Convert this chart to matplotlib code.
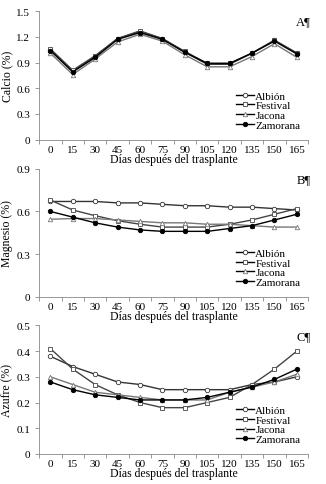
import matplotlib
matplotlib.use("Agg")
import matplotlib.pyplot as plt
import numpy as np

plt.rcParams['font.family'] = ['Liberation Serif', 'DejaVu Serif']

dias = ['0', '15', '30', '45', '60', '75', '90', '105', '120', '135', '150', '165']
variedades = ['Albión', 'Festival', 'Jacona', 'Zamorana']

calcio_albion = [1.05, 0.80, 0.97, 1.18, 1.26, 1.18, 1.02, 0.88, 0.88, 1.01, 1.16, 1.01]
calcio_festival = [1.06, 0.81, 0.98, 1.18, 1.27, 1.18, 1.03, 0.89, 0.89, 1.01, 1.16, 1.01]
calcio_jacona = [1.01, 0.76, 0.94, 1.14, 1.23, 1.15, 0.99, 0.85, 0.85, 0.97, 1.12, 0.96]
calcio_zamorana = [1.04, 0.79, 0.96, 1.17, 1.25, 1.17, 1.02, 0.89, 0.89, 1.01, 1.15, 1.00]

magnesio_albion = [0.67, 0.67, 0.67, 0.66, 0.66, 0.65, 0.64, 0.64, 0.63, 0.63, 0.62, 0.61]
magnesio_festival = [0.68, 0.61, 0.57, 0.535, 0.51, 0.49, 0.49, 0.49, 0.51, 0.54, 0.58, 0.62]
magnesio_jacona = [0.545, 0.55, 0.55, 0.54, 0.53, 0.52, 0.52, 0.51, 0.51, 0.50, 0.49, 0.49]
magnesio_zamorana = [0.60, 0.56, 0.52, 0.49, 0.47, 0.46, 0.46, 0.46, 0.48, 0.50, 0.54, 0.58]

azufre_albion = [0.38, 0.34, 0.31, 0.28, 0.27, 0.25, 0.25, 0.25, 0.25, 0.27, 0.28, 0.30]
azufre_festival = [0.41, 0.33, 0.27, 0.23, 0.20, 0.18, 0.18, 0.20, 0.22, 0.27, 0.33, 0.40]
azufre_jacona = [0.30, 0.27, 0.24, 0.23, 0.22, 0.21, 0.21, 0.21, 0.24, 0.26, 0.28, 0.31]
azufre_zamorana = [0.28, 0.25, 0.23, 0.22, 0.21, 0.21, 0.21, 0.22, 0.24, 0.26, 0.29, 0.33]

paneles = [
    ('Calcio (%)', 'A¶', [calcio_albion, calcio_festival, calcio_jacona, calcio_zamorana],
     1.5, np.arange(0, 1.51, 0.3), ['0', '0.3', '0.6', '0.9', '1.2', '1.5']),
    ('Magnesio (%)', 'B¶', [magnesio_albion, magnesio_festival, magnesio_jacona, magnesio_zamorana],
     0.9, np.arange(0, 0.91, 0.3), ['0', '0.3', '0.6', '0.9']),
    ('Azufre (%)', 'C¶', [azufre_albion, azufre_festival, azufre_jacona, azufre_zamorana],
     0.5, np.arange(0, 0.51, 0.1), ['0', '0.1', '0.2', '0.3', '0.4', '0.5']),
]

# marker styles per variety
marcadores = [
    dict(marker='o', mfc='white', color='#333333'),
    dict(marker='s', mfc='white', color='#444444'),
    dict(marker='^', mfc='white', color='#777777'),
    dict(marker='o', mfc='black', color='black'),
]

# axes positions [left, bottom, width, height] in figure fraction
posiciones = [
    [0.12, 0.710, 0.825, 0.265],
    [0.12, 0.386, 0.825, 0.264],
    [0.12, 0.062, 0.825, 0.265],
]

fig = plt.figure(figsize=(3.26, 4.85), dpi=100)
x = np.arange(len(dias))

for (ylabel, letra, series, ymax, yticks, ylabels), pos in zip(paneles, posiciones):
    ax = fig.add_axes(pos)
    for nombre, valores, st in zip(variedades, series, marcadores):
        ax.plot(x, valores, linewidth=1.0, markersize=3.2, markeredgewidth=0.6,
                markeredgecolor=st['color'], label=nombre, **st)

    ax.set_xlim(-0.5, len(dias) - 0.5)
    ax.set_ylim(0, ymax)
    ax.set_xticks(x)
    ax.set_xticklabels(dias)
    ax.set_xticks(np.arange(-0.5, len(dias)), minor=True)
    ax.tick_params(axis='x', which='major', length=0, labelsize=8, pad=4)
    ax.tick_params(axis='x', which='minor', length=3, width=0.6, color='#888888')
    ax.set_yticks(yticks)
    ax.set_yticklabels(ylabels)
    ax.tick_params(axis='y', length=3, width=0.6, color='#888888', labelsize=8)

    for s in ['top', 'right']:
        ax.spines[s].set_visible(False)
    for s in ['left', 'bottom']:
        ax.spines[s].set_color('#888888')
        ax.spines[s].set_linewidth(0.6)

    ax.set_xlabel('Días después del trasplante', fontsize=8.5, labelpad=-1)
    ax.set_ylabel(ylabel, fontsize=8.5, labelpad=2)
    ax.text(1.01, 0.92, letra, transform=ax.transAxes, ha='right', va='center', fontsize=9)

    leg = ax.legend(loc='lower right', bbox_to_anchor=(1.0, 0.015), frameon=False,
                    fontsize=8, handlelength=1.6, handletextpad=0.1,
                    labelspacing=0.0, borderpad=0.2)
    for h in leg.legend_handles:
        h.set_color('black')

fig.savefig('out.png', dpi=100)
